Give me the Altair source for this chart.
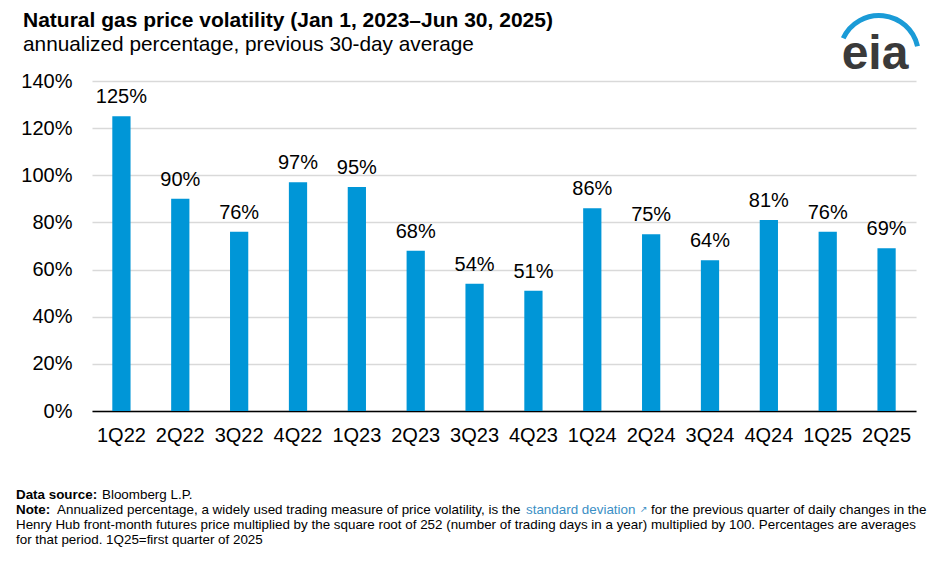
import altair as alt
import pandas as pd

quarters = ["1Q22", "2Q22", "3Q22", "4Q22", "1Q23", "2Q23", "3Q23", "4Q23",
            "1Q24", "2Q24", "3Q24", "4Q24", "1Q25", "2Q25"]
volatility = [125, 90, 76, 97, 95, 68, 54, 51, 86, 75, 64, 81, 76, 69]
y_ticks = [0, 20, 40, 60, 80, 100, 120, 140]

title_text = "Natural gas price volatility (Jan 1, 2023\u2013Jun 30, 2025)"
subtitle_text = "annualized percentage, previous 30-day average"
source_label = "Data source:"
source_text = "Bloomberg L.P."
note_label = "Note:"
note_a = "Annualized percentage, a widely used trading measure of price volatility, is the"
note_link = "standard deviation"
note_b = "for the previous quarter of daily changes in the"
note_line3 = ("Henry Hub front-month futures price multiplied by the square root of 252 "
              "(number of trading days in a year) multiplied by 100. Percentages are averages")
note_line4 = "for that period. 1Q25=first quarter of 2025"

FONT = "Liberation Sans"
NOTE_FONT = "Liberation Sans"
NOTE_SIZE = 13.4
BLUE = "#0096d7"

df = pd.DataFrame({"quarter": quarters, "vol": volatility})
df["label"] = df["vol"].astype(str) + "%"

W, H = 824, 330
PL, PT = 84, 73  # padding left/top -> plot origin at page (92, 81)


def px(x):
    return x - 8 - PL


def py(y):
    return y - 8 - PT


def txt(s, x, y, size, weight="normal", color="#000000", font=FONT, align="left"):
    return alt.Chart(pd.DataFrame({"t": [s]})).mark_text(
        align=align, baseline="alphabetic", fontSize=size, fontWeight=weight,
        color=color, font=font
    ).encode(x=alt.value(px(x)), y=alt.value(py(y)), text="t:N")


base = alt.Chart(df)
xenc = alt.X(
    "quarter:N", sort=quarters,
    scale=alt.Scale(paddingInner=0.69, paddingOuter=0.345),
    axis=alt.Axis(title=None, labelAngle=0, labelFont=FONT, labelFontSize=20,
                  labelColor="#000000", labelPadding=14, ticks=False, tickSize=0,
                  domain=True, domainColor="#000000", domainWidth=1.5, grid=False),
)
yenc = alt.Y(
    "vol:Q", scale=alt.Scale(domain=[0, 140], nice=False),
    axis=alt.Axis(title=None, values=y_ticks, labelExpr="datum.value + '%'",
                  labelFont=FONT, labelFontSize=20, labelColor="#000000",
                  labelPadding=20, ticks=False, tickSize=0, domain=False,
                  gridColor="#d9d9d9", gridWidth=1.5),
)

bars = base.mark_bar(color=BLUE).encode(x=xenc, y=yenc)
labels = base.mark_text(font=FONT, fontSize=20, baseline="alphabetic", dy=-13,
                        color="#000000").encode(
    x=alt.X("quarter:N", sort=quarters), y="vol:Q", text="label:N")

LINK = "#3a8fc5"
texts = [
    txt(title_text, 23, 27, 21, weight="bold"),
    txt(subtitle_text, 23, 51, 20.8),
    txt(source_label, 16, 499, NOTE_SIZE, weight="bold", font=NOTE_FONT),
    txt(source_text, 102, 499, NOTE_SIZE, font=NOTE_FONT),
    txt(note_label, 16, 514, NOTE_SIZE, weight="bold", font=NOTE_FONT),
    txt(note_a, 57, 514, NOTE_SIZE, font=NOTE_FONT),
    txt(note_link, 526, 514, NOTE_SIZE, color=LINK, font=NOTE_FONT),
    txt("\u2197", 640, 512, 9, color=LINK, font="DejaVu Sans"),
    txt(note_b, 651, 514, NOTE_SIZE, font=NOTE_FONT),
    txt(note_line3, 16, 529, NOTE_SIZE, font=NOTE_FONT),
    txt(note_line4, 16, 544, NOTE_SIZE, font=NOTE_FONT),
    txt("eia", 875, 69, 48, weight="bold", color="#3a3a3a", align="center"),
]

swoosh = alt.Chart(pd.DataFrame({"a": [0]})).mark_arc(
    theta=5.15, theta2=7.63, radius=42, radius2=37, color="#1a9bd7"
).encode(x=alt.value(px(879)), y=alt.value(py(55)))

chart = alt.layer(bars, labels, swoosh, *texts).properties(
    width=W, height=H,
    padding={"left": PL, "top": PT, "right": 16, "bottom": 147},
    autosize=alt.AutoSizeParams(type="none"),
    background="white",
).configure_view(stroke=None)

chart.save("out.html", embed_options={"renderer": "svg", "actions": False})
